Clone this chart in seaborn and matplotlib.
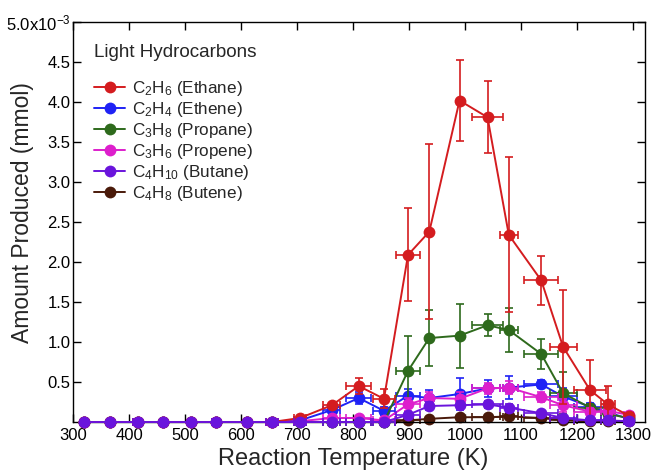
import numpy as np
import pandas as pd
import matplotlib
matplotlib.use("Agg")
import matplotlib.pyplot as plt
from matplotlib.ticker import FixedLocator, FuncFormatter
import seaborn as sns

# ---- data (amounts in units of 1e-3 mmol) ----
temperature = [320, 365, 415, 460, 510, 555, 610, 655, 705, 762, 810, 855,
               898, 936, 990, 1040, 1078, 1136, 1175, 1223, 1255, 1292]
temp_err = [0, 0, 8, 0, 0, 8, 0, 10, 10, 15, 22, 20,
            22, 0, 0, 28, 16, 30, 24, 28, 12, 8]

ethane = [0, 0, 0, 0, 0, 0, 0, 0, 0.05, 0.21, 0.45, 0.29,
          2.09, 2.38, 4.02, 3.81, 2.34, 1.77, 0.94, 0.40, 0.22, 0.08]
ethane_err = [0, 0, 0, 0, 0, 0, 0, 0, 0.02, 0.03, 0.10, 0.12,
              0.58, 1.09, 0.51, 0.45, 0.97, 0.31, 0.71, 0.38, 0.23, 0.02]

ethene = [0, 0, 0, 0, 0, 0, 0, 0, 0.02, 0.15, 0.30, 0.14,
          0.33, 0.30, 0.35, 0.42, 0.43, 0.47, 0.32, 0.19, 0.12, 0.04]
ethene_err = [0, 0, 0, 0, 0, 0, 0, 0, 0.01, 0.05, 0.07, 0.05,
              0.08, 0.10, 0.20, 0.11, 0.14, 0.05, 0.10, 0.05, 0.03, 0.01]

propane = [0, 0, 0, 0, 0, 0, 0, 0, 0, 0, 0, 0,
           0.64, 1.05, 1.08, 1.21, 1.15, 0.85, 0.36, 0.18, 0.10, 0.05]
propane_err = [0, 0, 0, 0, 0, 0, 0, 0, 0, 0, 0, 0,
               0.44, 0.35, 0.40, 0.14, 0.27, 0.19, 0.26, 0.05, 0.04, 0.02]

propene = [0, 0, 0, 0, 0, 0, 0, 0, 0.01, 0.05, 0.05, 0.02,
           0.22, 0.30, 0.29, 0.42, 0.43, 0.31, 0.21, 0.13, 0.14, 0.09]
propene_err = [0, 0, 0, 0, 0, 0, 0, 0, 0.01, 0.03, 0.03, 0.02,
               0.08, 0.07, 0.08, 0.07, 0.08, 0.06, 0.08, 0.05, 0.05, 0.02]

butane = [0, 0, 0, 0, 0, 0, 0, 0, 0, 0, 0, 0,
          0.09, 0.20, 0.21, 0.22, 0.18, 0.11, 0.05, 0.02, 0.02, 0.01]
butane_err = [0, 0, 0, 0, 0, 0, 0, 0, 0, 0, 0, 0,
              0.04, 0.05, 0.05, 0.04, 0.05, 0.03, 0.02, 0.01, 0.01, 0.01]

butene = [0, 0, 0, 0, 0, 0, 0, 0, 0, 0, 0, 0,
          0.02, 0.04, 0.06, 0.06, 0.07, 0.05, 0.02, 0.01, 0.01, 0.01]
butene_err = [0, 0, 0, 0, 0, 0, 0, 0, 0, 0, 0, 0,
              0.01, 0.01, 0.01, 0.01, 0.01, 0.01, 0.01, 0.01, 0.01, 0.01]

labels = [r"C$_2$H$_6$ (Ethane)", r"C$_2$H$_4$ (Ethene)", r"C$_3$H$_8$ (Propane)",
          r"C$_3$H$_6$ (Propene)", r"C$_4$H$_{10}$ (Butane)", r"C$_4$H$_8$ (Butene)"]
x_ticks = [300, 400, 500, 600, 700, 800, 900, 1000, 1100, 1200, 1300]
y_ticks = [0.5, 1.0, 1.5, 2.0, 2.5, 3.0, 3.5, 4.0, 4.5, 5.0]

series = [ethane, ethene, propane, propene, butane, butene]
errors = [ethane_err, ethene_err, propane_err, propene_err, butane_err, butene_err]
colors = ["#d41c1f", "#1f22f5", "#2e6a1c", "#dd1fcc", "#6a14dc", "#4a1a0a"]
zorders = [6, 3, 4, 5, 7, 2]

# ---- style ----
sns.set_theme(style="ticks")
plt.rcParams["font.family"] = ["Liberation Sans", "DejaVu Sans"]
plt.rcParams["mathtext.fontset"] = "custom"
plt.rcParams["mathtext.rm"] = "Liberation Sans"
plt.rcParams["mathtext.it"] = "Liberation Sans:italic"
plt.rcParams["mathtext.default"] = "regular"

fig = plt.figure(figsize=(6.54, 4.71), dpi=100)
ax = fig.add_axes([0.112, 0.104, 0.874, 0.849])

for vals, errs, col, lab, zo in zip(series, errors, colors, labels, zorders):
    df = pd.DataFrame({"T": temperature, "y": vals})
    ax.errorbar(temperature, vals, yerr=errs, xerr=temp_err, fmt="none",
                ecolor=col, elinewidth=1.2, capsize=3.2, capthick=1.2,
                zorder=zo, clip_on=False)
    sns.lineplot(data=df, x="T", y="y", ax=ax, color=col, marker="o",
                 markersize=8.5, markeredgewidth=0, linewidth=1.4,
                 label=lab, zorder=zo + 0.5, clip_on=False, errorbar=None,
                 sort=False)

ax.set_xlim(300, 1321)
ax.set_ylim(0, 5.0)
ax.xaxis.set_major_locator(FixedLocator(x_ticks))
ax.yaxis.set_major_locator(FixedLocator(y_ticks))


def yfmt(v, pos):
    if abs(v - 5.0) < 1e-9:
        return r"5.0x10$^{-3}$"
    return f"{v:.1f}"


ax.yaxis.set_major_formatter(FuncFormatter(yfmt))
ax.tick_params(direction="in", top=True, right=True, length=6, width=1,
               labelsize=12, colors="black")
ax.tick_params(axis="x", pad=4.5)
ax.tick_params(axis="y", pad=2)
for sp in ax.spines.values():
    sp.set_linewidth(1.0)
    sp.set_color("black")

ax.set_xlabel("Reaction Temperature (K)", fontsize=17)
ax.set_ylabel("Amount Produced (mmol)", fontsize=16.5)
ax.xaxis.set_label_coords(0.49, -0.064)
ax.yaxis.set_label_coords(-0.068, 0.525)

h, l = ax.get_legend_handles_labels()
leg = ax.legend(h, l, title="Light Hydrocarbons", loc="upper left",
                bbox_to_anchor=(0.015, 0.975), frameon=False, fontsize=12.3,
                title_fontsize=13.6, handlelength=1.85, labelspacing=0.12,
                handletextpad=0.4, alignment="left", borderpad=0.2)
leg._legend_box.sep = 13

fig.savefig("out.png", dpi=100)
